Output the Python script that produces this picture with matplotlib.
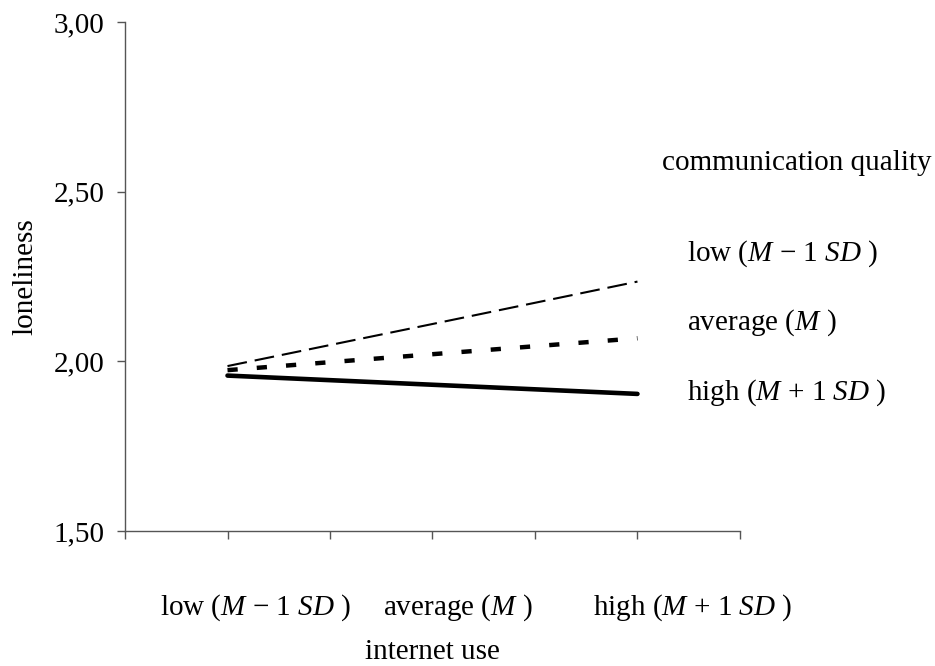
import matplotlib
matplotlib.use("Agg")
import matplotlib.pyplot as plt
import matplotlib.transforms as mtransforms

plt.rcParams['font.family'] = ['Liberation Serif', 'DejaVu Serif']
plt.rcParams['mathtext.fontset'] = 'custom'
plt.rcParams['mathtext.rm'] = 'Liberation Serif'
plt.rcParams['mathtext.it'] = 'Liberation Serif:italic'

# internet use levels (x categories)
internet_use = [r"low ($M$ $-$ 1 $SD$ )", r"average ($M$ )", r"high ($M$ + 1 $SD$ )"]

# loneliness for each communication quality level
low_quality = [1.986, 2.110, 2.235]
avg_quality = [1.974, 2.021, 2.068]
high_quality = [1.958, 1.931, 1.904]

quality_labels = [r"low ($M$ $-$ 1 $SD$ )", r"average ($M$ )", r"high ($M$ + 1 $SD$ )"]

y_ticks = [1.50, 2.00, 2.50, 3.00]

FS = 21

fig = plt.figure(figsize=(9.35, 6.66), dpi=100)
ax = fig.add_axes([0.1337, 0.2027, 0.6577, 0.7643])

# categories sit in the middle of every second slot on a 0..6 axis
xs = [2 * i + 1 for i in range(len(internet_use))]

ax.plot(xs, low_quality, color='black', lw=1.5, dashes=(9.5, 3.8))
ax.plot(xs, avg_quality, color='black', lw=3.2, dashes=(2.3, 4.3))
ax.plot(xs, high_quality, color='black', lw=3.3, solid_capstyle='round')

ax.set_xlim(0, 6)
ax.set_ylim(1.5, 3.0)
ax.set_xticks(range(0, 7))
ax.set_xticklabels([])
ax.set_yticks(y_ticks)
ax.set_yticklabels([("%.2f" % v).replace('.', ',') for v in y_ticks], fontsize=FS)

for side in ['top', 'right']:
    ax.spines[side].set_visible(False)
for side in ['left', 'bottom']:
    ax.spines[side].set_color('#555555')
    ax.spines[side].set_linewidth(1.0)
ax.tick_params(axis='both', direction='out', length=6, width=1.0, color='#555555')
ax.tick_params(axis='y', pad=9)

# x category labels under the axis
trans = mtransforms.blended_transform_factory(ax.transData, fig.transFigure)
label_x = [1.27, 3.25, 5.54]
for lx, lab in zip(label_x, internet_use):
    ax.text(lx, 0.087, lab, transform=trans, ha='center', va='center', fontsize=FS)

fig.text(0.462, 0.021, "internet use", ha='center', va='center', fontsize=FS)
fig.text(0.027, 0.585, "loneliness", ha='center', va='center', rotation=90, fontsize=FS)

# legend-like labels on the right
fig.text(0.708, 0.755, "communication quality", ha='left', va='center', fontsize=FS)
for ly, lab in zip([0.6186, 0.515, 0.410], quality_labels):
    fig.text(0.735, ly, lab, ha='left', va='center', fontsize=FS)

fig.savefig("out.png", dpi=100)
